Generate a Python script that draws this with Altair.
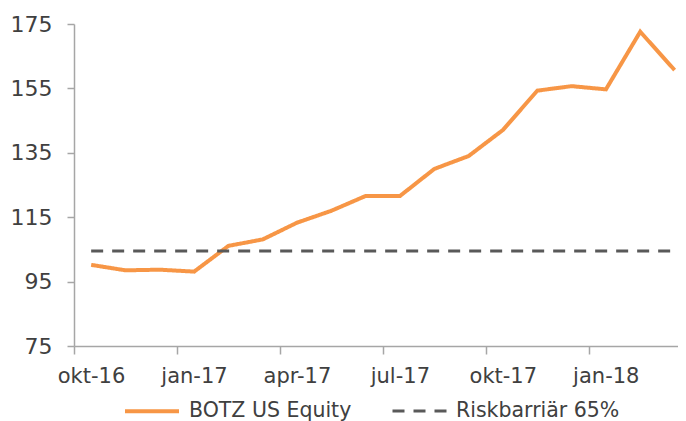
import json
import altair as alt
import pandas as pd

months = ["okt-16", "nov-16", "dec-16", "jan-17", "feb-17", "mar-17", "apr-17", "maj-17", "jun-17",
          "jul-17", "aug-17", "sep-17", "okt-17", "nov-17", "dec-17", "jan-18", "feb-18", "mar-18"]
botz = [100.2, 98.5, 98.7, 98.1, 106.1, 108.1, 113.3, 117.0, 121.6,
        121.6, 130.0, 134.0, 142.1, 154.3, 155.7, 154.7, 172.6, 160.7]
barrier_level = 104.5
series_names = ["BOTZ US Equity", "Riskbarriär 65%"]
tick_labels = ["okt-16", "jan-17", "apr-17", "jul-17", "okt-17", "jan-18"]
y_ticks = [75, 95, 115, 135, 155, 175]

rows = []
for i, (m, v) in enumerate(zip(months, botz)):
    rows.append({"idx": i, "month": m, "value": v, "series": series_names[0]})
for i, m in enumerate(months):
    rows.append({"idx": i, "month": m, "value": barrier_level, "series": series_names[1]})
df = pd.DataFrame(rows)

tick_vals = [3 * k - 0.5 for k in range(len(tick_labels))]
label_expr = json.dumps(tick_labels) + "[round((datum.value + 0.5) / 3)]"

FONT = "DejaVu Sans"
TXT = "#404040"
AX = "#a6a6a6"

chart = alt.Chart(df).mark_line().encode(
    x=alt.X("idx:Q",
            scale=alt.Scale(domain=[-0.5, 17.1], nice=False, zero=False),
            axis=alt.Axis(values=tick_vals, labelExpr=label_expr, title=None, grid=False,
                          tickSize=8, labelOffset=17, labelPadding=11, labelFontSize=21,
                          labelFont=FONT, labelColor=TXT, domainColor=AX, tickColor=AX,
                          domainWidth=1.5, tickWidth=1.5, labelFlush=False)),
    y=alt.Y("value:Q",
            scale=alt.Scale(domain=[75, 175], nice=False, zero=False),
            axis=alt.Axis(values=y_ticks, title=None, grid=False, tickSize=7,
                          labelPadding=15, labelFontSize=22, labelFont=FONT, labelColor=TXT,
                          domainColor=AX, tickColor=AX, domainWidth=1.5, tickWidth=1.5)),
    color=alt.Color("series:N",
                    scale=alt.Scale(domain=series_names, range=["#f79646", "#595959"]),
                    legend=alt.Legend(title=None, orient="none", direction="horizontal",
                                      legendX=49, legendY=358, symbolType="stroke",
                                      symbolSize=2916, labelFontSize=20.5, labelFont=FONT,
                                      labelColor=TXT, columnPadding=34, labelOffset=8,
                                      labelLimit=400)),
    strokeDash=alt.StrokeDash("series:N",
                              scale=alt.Scale(domain=series_names, range=[[1, 0], [12, 9]]),
                              legend=None),
    strokeWidth=alt.StrokeWidth("series:N",
                                scale=alt.Scale(domain=series_names, range=[4, 3]),
                                legend=None),
).properties(
    width=604,
    height=322,
    autosize=alt.AutoSizeParams(type="none"),
    padding={"left": 66, "top": 16, "right": 0, "bottom": 75},
).configure_view(stroke=None)

chart.save("out.html", embed_options={"renderer": "svg", "actions": False})
